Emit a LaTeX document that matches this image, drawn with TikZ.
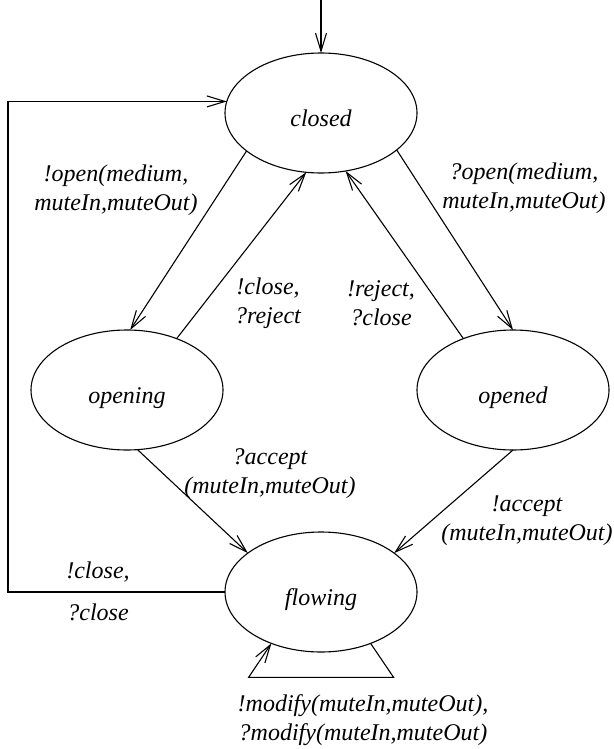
\documentclass[tikz,border=0pt]{standalone}
\usepackage{fontspec}
\setmainfont{Liberation Serif}
\usepackage{tikz}
\usetikzlibrary{arrows.meta,shapes.geometric}

\begin{document}
\begin{tikzpicture}[x=1pt, y=-1pt,
        state/.style={draw, ellipse, minimum width=192pt, minimum height=120pt,
                      inner sep=0pt, outer sep=0pt, text height=26pt, text depth=0pt,
                      line width=1.1pt, font=\itshape\fontsize{24}{29}\selectfont},
        lbl/.style={align=center, inner sep=0pt, font=\itshape\fontsize{24}{29}\selectfont},
        arrow/.style={-{Straight Barb[length=18pt,width=11pt]}, line width=1.1pt}
    ]
        \useasboundingbox (0,0) rectangle (613,749);

        \node[state] (closed) at (321,113) {closed};
        \node[state] (opening) at (127,390) {opening};
        \node[state] (opened) at (513,390) {opened};
        \node[state] (flowing) at (321,592) {flowing};
        \coordinate (init) at (321,0);

        \node[lbl] (lopen) at (116,190) {!open(medium,\\muteIn,muteOut)};
        \node[lbl] (ropen) at (524,188) {?open(medium,\\muteIn,muteOut)};
        \node[lbl] (lclose) at (268,303) {!close,\\?reject};
        \node[lbl] (rreject) at (381,303) {!reject,\\?close};
        \node[lbl] (laccept) at (270,474) {?accept\\(muteIn,muteOut)};
        \node[lbl] (raccept) at (527,521) {!accept\\(muteIn,muteOut)};
        \node[lbl] (bclose) at (98,572) {!close,};
        \node[lbl] (bclose2) at (98,612) {?close};
        \node[lbl] (modify) at (363,720) {!modify(muteIn,muteOut),\\?modify(muteIn,muteOut)};

        \draw[arrow] (init) -- (closed.north);
        \draw[arrow] (closed.207) -- (opening.87);
        \draw[arrow] (opening.46) -- (closed.256);
        \draw[arrow] (closed.334) -- (opened.north);
        \draw[arrow] (opened.134) -- (closed.293);
        \draw[arrow] (opening.280) -- (flowing.152);
        \draw[arrow] (opened.south) -- (flowing.28);
        \draw[arrow] (flowing.west) -- ++(-217,0) |- (closed.173);
        \draw[arrow] (flowing.314) -- ++(23,34) -- ++(-145,0) -- (flowing.226);
    \end{tikzpicture}
\end{document}
